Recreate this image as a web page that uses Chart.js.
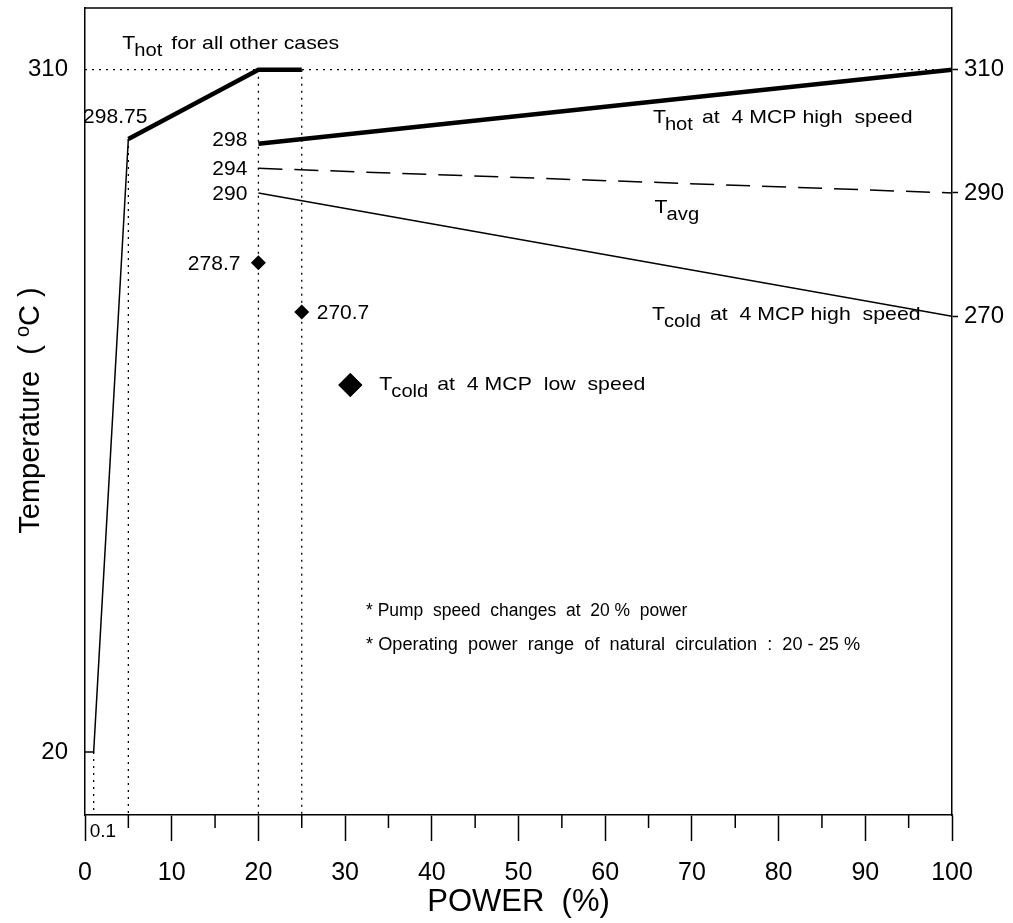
<!DOCTYPE html>
<html>
<head>
<meta charset="utf-8">
<script src="https://cdn.jsdelivr.net/npm/chart.js@4"></script>
<style>
  html, body { margin: 0; padding: 0; background: #fff; }
  canvas { display: block; }
</style>
</head>
<body>
<canvas id="tempChart" width="1013" height="923"></canvas>
<script>
// Coolant temperature vs reactor power
const startupPower = [0, 1, 5];
const startupTemp = [20, 20, 298.75];
const hotOtherPower = [5, 20, 25];
const hotOtherTemp = [298.75, 310, 310];
const highSpeedPower = [20, 100];
const tHotHigh = [298, 310];
const tAvg = [294, 290];
const tColdHigh = [290, 270];
const lowSpeedPower = [20, 25];
const tColdLow = [278.7, 270.7];
const guidePower = [1, 5, 20, 25];
const guideTop = [20, 298.75, 310, 310];
const refTemp = 310;
const leftTicks = [20, 310];
const rightTicks = [270, 290, 310];
const xMin = 0, xMax = 100, yMin = 10, yMax = 320;

// the temperature axis is broken between 20 and 270 C
const breakKnots = [[10, 0], [20, 0.078], [270, 0.618], [320, 1]];

function tempToDec(v) {
  for (let i = 1; i < breakKnots.length; i++) {
    const [v0, d0] = breakKnots[i - 1], [v1, d1] = breakKnots[i];
    if (v <= v1 || i === breakKnots.length - 1) return d0 + (v - v0) / (v1 - v0) * (d1 - d0);
  }
}
function decToTemp(d) {
  for (let i = 1; i < breakKnots.length; i++) {
    const [v0, d0] = breakKnots[i - 1], [v1, d1] = breakKnots[i];
    if (d <= d1 || i === breakKnots.length - 1) return v0 + (d - d0) / (d1 - d0) * (v1 - v0);
  }
}

class BrokenScale extends Chart.LinearScale {
  getPixelForValue(value) { return this.getPixelForDecimal(tempToDec(value)); }
  getValueForPixel(pixel) { return decToTemp(this.getDecimalForPixel(pixel)); }
}
BrokenScale.id = 'broken';
BrokenScale.defaults = Chart.LinearScale.defaults;
Chart.register(BrokenScale);

const FONT = "'Liberation Sans', Arial, sans-serif";
Chart.defaults.font.family = FONT;
Chart.defaults.color = '#000';

const pts = (xs, ys) => xs.map((x, i) => ({ x: x, y: ys[i] }));
const dotted = [2, 5];

// text a little wider than the font, like the scanned original
function wide(ctx, text, x, y, size, sx) {
  ctx.save();
  ctx.font = size + 'px ' + FONT;
  ctx.translate(x, y);
  ctx.scale(sx, 1);
  ctx.fillText(text, 0, 0);
  const w = ctx.measureText(text).width * sx;
  ctx.restore();
  return w;
}

function subText(ctx, x, y, main, sub, rest) {
  let w = wide(ctx, main, x, y, 19, 1.12) - 1;
  w += wide(ctx, sub, x + w, y + 7, 18, 1.12) + 9;
  if (rest) wide(ctx, rest, x + w, y, 19, 1.12);
}

const annotations = {
  id: 'annotations',
  afterDraw(chart) {
    const { ctx, chartArea: a } = chart;
    const xs = chart.scales.x, ys = chart.scales.y;
    const px = v => xs.getPixelForValue(v), py = v => ys.getPixelForValue(v);
    ctx.save();
    ctx.fillStyle = '#000';
    ctx.strokeStyle = '#000';

    // top border of the frame
    ctx.lineWidth = 1.5;
    ctx.beginPath();
    ctx.moveTo(a.left, a.top);
    ctx.lineTo(a.right, a.top);
    ctx.stroke();

    // minor ticks on the power axis
    for (let v = xMin + 5; v < xMax; v += 10) {
      ctx.beginPath();
      ctx.moveTo(px(v), a.bottom);
      ctx.lineTo(px(v), a.bottom + 13);
      ctx.stroke();
    }

    // value labels
    ctx.font = '21px ' + FONT;
    ctx.textBaseline = 'alphabetic';
    ctx.textAlign = 'right';
    ctx.fillText(String(startupTemp[2]), px(startupPower[2]) + 19, py(startupTemp[2]) - 16);
    ctx.textBaseline = 'middle';
    ctx.fillText(String(tHotHigh[0]), px(highSpeedPower[0]) - 11, py(tHotHigh[0]) - 3);
    ctx.fillText(String(tAvg[0]), px(highSpeedPower[0]) - 11, py(tAvg[0]) + 1);
    ctx.fillText(String(tColdHigh[0]), px(highSpeedPower[0]) - 11, py(tColdHigh[0]) + 1);
    ctx.fillText(String(tColdLow[0]), px(lowSpeedPower[0]) - 18, py(tColdLow[0]) + 2);
    ctx.textAlign = 'left';
    ctx.fillText(String(tColdLow[1]), px(lowSpeedPower[1]) + 15, py(tColdLow[1]) + 1);

    // small "0.1" under the first guide line
    ctx.font = '19px ' + FONT;
    ctx.fillText('0.1', px(guidePower[0]) - 4, a.bottom + 17);

    // curve labels
    ctx.textBaseline = 'alphabetic';
    subText(ctx, px(4.3), py(313.3), 'T', 'hot', 'for all other cases');
    subText(ctx, px(65.5), py(301.4), 'T', 'hot', 'at  4 MCP high  speed');
    subText(ctx, px(65.7), py(286.7), 'T', 'avg', '');
    subText(ctx, px(65.4), py(268.0), 'T', 'cold', 'at  4 MCP high  speed');

    // legend for the low speed points
    const lx = px(30.6), ly = a.top + 377;
    Chart.helpers.drawPoint(ctx, { pointStyle: 'rectRot', radius: 12, borderWidth: 0 }, lx, ly);
    ctx.fill();
    subText(ctx, lx + 29, ly + 5, 'T', 'cold', 'at  4 MCP  low  speed');

    // notes
    wide(ctx, '* Pump  speed  changes  at  20 %  power', a.left + 281, a.top + 608, 18, 0.97);
    wide(ctx, '* Operating  power  range  of  natural  circulation  :  20 - 25 %', a.left + 281, a.top + 642, 18, 1.01);

    // vertical axis title with superscript degree
    ctx.translate(31, (a.top + a.bottom) / 2 - 1);
    ctx.rotate(-Math.PI / 2);
    ctx.textBaseline = 'middle';
    const parts = [['Temperature  ( ', 29, 0], ['o', 20, -8], ['C )', 29, 0]];
    let total = 0;
    parts.forEach(p => { ctx.font = p[1] + 'px ' + FONT; total += ctx.measureText(p[0]).width; });
    let cx = -total / 2;
    parts.forEach(p => {
      ctx.font = p[1] + 'px ' + FONT;
      ctx.fillText(p[0], cx, p[2]);
      cx += ctx.measureText(p[0]).width;
    });
    ctx.restore();
  }
};

const lineBase = { borderColor: '#000', backgroundColor: '#000', pointRadius: 0, tension: 0, fill: false };

const datasets = [
  Object.assign({ data: pts([xMin, xMax], [refTemp, refTemp]), borderWidth: 1.3, borderDash: dotted }, lineBase),
  ...guidePower.map((p, i) => Object.assign({ data: pts([p, p], [guideTop[i], yMin]), borderWidth: 1.3, borderDash: dotted }, lineBase)),
  Object.assign({ data: pts(startupPower, startupTemp), borderWidth: 1.5 }, lineBase),
  Object.assign({ data: pts(hotOtherPower, hotOtherTemp), borderWidth: 4.5 }, lineBase),
  Object.assign({ data: pts(highSpeedPower, tHotHigh), borderWidth: 4.5 }, lineBase),
  Object.assign({ data: pts(highSpeedPower, tAvg), borderWidth: 1.5, borderDash: [24, 12] }, lineBase),
  Object.assign({ data: pts(highSpeedPower, tColdHigh), borderWidth: 1.5 }, lineBase),
  Object.assign({}, lineBase, { data: pts(lowSpeedPower, tColdLow), showLine: false, pointStyle: 'rectRot', pointRadius: 7.5, pointBorderWidth: 0 })
];

new Chart(document.getElementById('tempChart'), {
  type: 'line',
  data: { datasets: datasets },
  options: {
    responsive: false,
    animation: false,
    devicePixelRatio: 1,
    layout: { padding: { top: 8, left: 0, right: 0, bottom: 0 } },
    plugins: { legend: { display: false }, tooltip: { enabled: false } },
    scales: {
      x: {
        type: 'linear', position: 'bottom', min: xMin, max: xMax,
        ticks: { stepSize: 10, font: { size: 25 }, color: '#000', padding: 17, maxRotation: 0, autoSkip: false },
        grid: { display: true, drawOnChartArea: false, drawTicks: true, tickLength: 26, tickColor: '#000', tickWidth: 1.5, color: '#000' },
        border: { display: true, color: '#000', width: 1.5 },
        title: { display: true, text: 'POWER  (%)', font: { size: 31 }, color: '#000', padding: { top: 0, bottom: 2 } },
        afterFit(s) { s.height = 108; s.paddingLeft = 0; s.paddingRight = 0; }
      },
      y: {
        type: 'broken', position: 'left', min: yMin, max: yMax,
        afterBuildTicks(s) { s.ticks = leftTicks.map(v => ({ value: v })); },
        ticks: { font: { size: 24 }, color: '#000', padding: 17 },
        grid: { display: false, drawTicks: false },
        border: { display: true, color: '#000', width: 1.5 },
        afterFit(s) { s.width = 85; s.paddingTop = 0; s.paddingBottom = 0; }
      },
      yRight: {
        type: 'broken', position: 'right', min: yMin, max: yMax,
        afterBuildTicks(s) { s.ticks = rightTicks.map(v => ({ value: v })); },
        ticks: { font: { size: 24 }, color: '#000', padding: 6 },
        grid: { display: true, drawOnChartArea: false, drawTicks: true, tickLength: 6, tickColor: '#000', tickWidth: 1.5 },
        border: { display: true, color: '#000', width: 1.5 },
        afterFit(s) { s.width = 61; s.paddingTop = 0; s.paddingBottom = 0; }
      }
    }
  },
  plugins: [annotations]
});
</script>
</body>
</html>
